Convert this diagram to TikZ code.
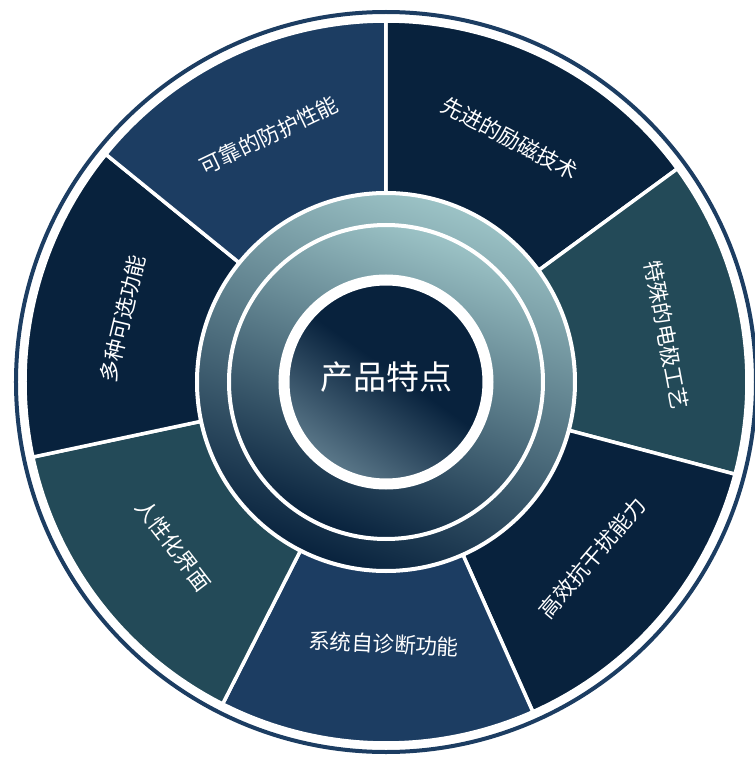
\documentclass[tikz,border=0pt]{standalone}
\usepackage{fontspec, tkz-euclide, tikz, xcolor}
\newfontfamily\cjk{Noto Sans CJK SC}
\usetikzlibrary{calc}
\definecolor{midblue}{HTML}{1C3D62}
\definecolor{navy}{HTML}{08223D}
\definecolor{teal}{HTML}{234A58}
\definecolor{paleteal}{HTML}{9CC3C6}
\definecolor{slate}{HTML}{4E6A80}
\definecolor{slatelight}{HTML}{5E7B8C}
\pgfdeclareverticalshading{hubdisc}{100bp}{color(0bp)=(slatelight); color(25bp)=(slatelight); color(53bp)=(navy); color(100bp)=(navy)}
\tikzset{seg/.style = {draw = white, line width = 3.5pt},
         ring/.style = {draw = white, line width = 4pt, top color = paleteal, middle color = slate, bottom color = navy, shading angle = -20},
         lbl/.style = {text = white, font = \cjk\fontsize{21.5}{25}\selectfont, inner sep = 0pt}}

\begin{document}
\begin{tikzpicture}[x = 1pt, y = 1pt]
\useasboundingbox (-386,-376) rectangle (369,382);
\tkzDefPoints{0/0/O}
% outer rim
\draw[midblue, line width = 4pt] (O) circle (370);
% seven sectors
\draw[seg, fill = navy] (90:190) -- (90:361) arc[start angle = 90, end angle = 36.2, radius = 361] -- (36.2:190) -- cycle;
\draw[seg, fill = teal] (36.2:190) -- (36.2:361) arc[start angle = 36.2, end angle = -14.8, radius = 361] -- (-14.8:190) -- cycle;
\draw[seg, fill = navy] (-14.8:190) -- (-14.8:361) arc[start angle = -14.8, end angle = -66, radius = 361] -- (-66:190) -- cycle;
\draw[seg, fill = midblue] (-66:190) -- (-66:361) arc[start angle = -66, end angle = -116.9, radius = 361] -- (-116.9:190) -- cycle;
\draw[seg, fill = teal] (-116.9:190) -- (-116.9:361) arc[start angle = -116.9, end angle = -168, radius = 361] -- (-168:190) -- cycle;
\draw[seg, fill = navy] (-168:190) -- (-168:361) arc[start angle = -168, end angle = -219.1, radius = 361] -- (-219.1:190) -- cycle;
\draw[seg, fill = midblue] (140.9:190) -- (140.9:361) arc[start angle = 140.9, end angle = 90, radius = 361] -- (90:190) -- cycle;
% hub
\draw[ring] (O) circle (189);
\draw[ring] (O) circle (157);
\draw[draw = white, line width = 11pt, shading = hubdisc, shading angle = -35] (O) circle (102);
\node[text = white, font = \cjk\fontsize{33}{38}\selectfont] (hub) at (1,5) {产品特点};
% labels
\node[lbl, rotate = -28] (lici) at (63.1:273) {先进的励磁技术};
\node[lbl, rotate = -79.3] (dianji) at (9.5:284) {特殊的电极工艺};
\node[lbl, rotate = 49.6] (kanggr) at (-40.4:271) {高效抗干扰能力};
\node[lbl, rotate = -3] (zizhd) at (-90.5:262) {系统自诊断功能};
\node[lbl, rotate = -52.4] (jiemian) at (-142.4:268) {人性化界面};
\node[lbl, rotate = 76.5] (kexuan) at (166.5:271) {多种可选功能};
\node[lbl, rotate = 25.5] (fanghu) at (115.4:273) {可靠的防护性能};
\end{tikzpicture}
\end{document}
